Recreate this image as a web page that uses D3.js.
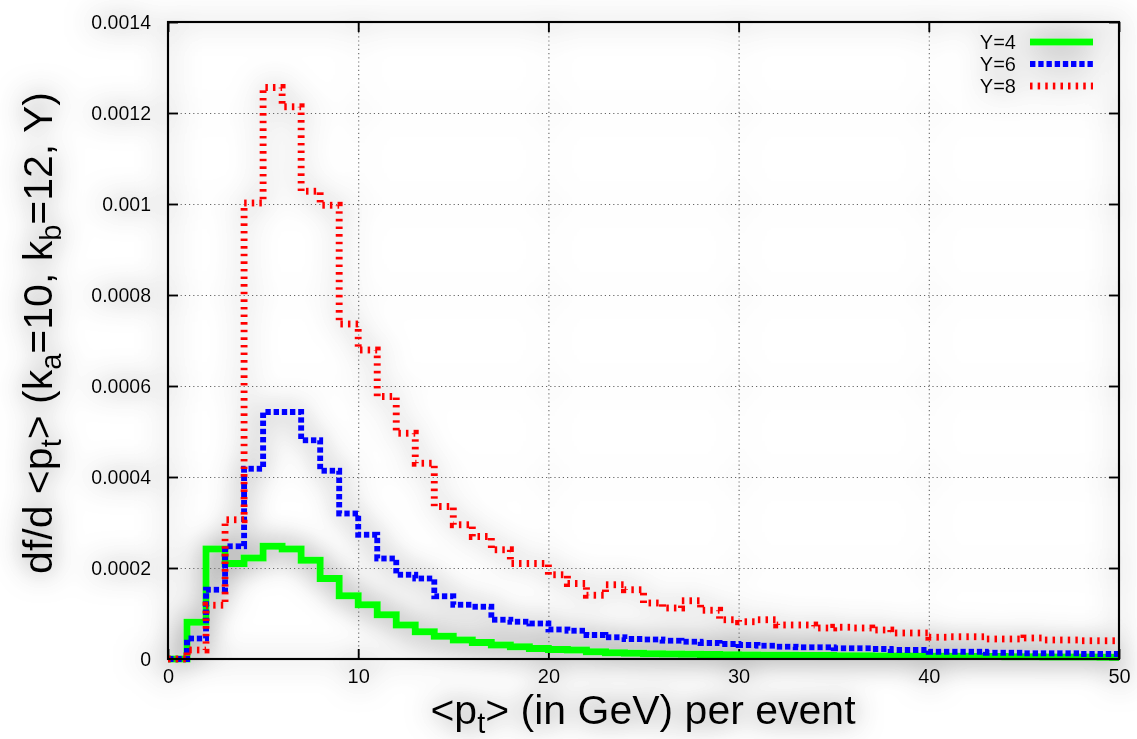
<!DOCTYPE html>
<html><head><meta charset="utf-8">
<script src="https://cdn.jsdelivr.net/npm/d3@7"></script>
<style>
html,body{margin:0;padding:0;background:#fff;}
svg{display:block;font-family:"Liberation Sans",Arial,Helvetica,sans-serif;}
</style></head>
<body>
<svg id="chart" width="1137" height="739"></svg>
<script>
// ---- data (1 GeV bins, 0..50) ----
const binEdges = d3.range(0, 51);
const seriesNames = ["Y=4", "Y=6", "Y=8"];
const y4 = [
0, 0.000081, 0.000242, 0.00021, 0.000222, 0.000248, 0.000242, 0.000217, 0.000177, 0.000139,
0.000119, 0.000097, 0.000075, 0.00006, 0.00005, 0.000042, 0.000036, 0.000031, 0.000027, 0.000023,
0.000021, 0.00002, 0.000016, 0.000014, 0.0000125, 0.0000115, 0.000011, 0.0000105, 0.00001, 0.0000095,
0.000009, 0.0000085, 0.000008, 0.0000078, 0.0000075, 0.0000072, 0.000007, 0.0000067, 0.0000065, 0.0000062,
0.000006, 0.0000058, 0.0000055, 0.0000053, 0.000005, 0.0000048, 0.0000046, 0.0000044, 0.0000042, 0.000004];
const y6 = [
0, 0.000045, 0.000152, 0.000248, 0.000418, 0.000543, 0.000543, 0.000481, 0.000414, 0.000320,
0.000273, 0.000221, 0.000185, 0.000177, 0.000138, 0.000119, 0.000115, 0.000086, 0.000082, 0.000078,
0.000065, 0.000062, 0.000053, 0.000048, 0.000044, 0.000043, 0.00004, 0.000038, 0.000035, 0.000033,
0.000031, 0.000029, 0.000027, 0.000026, 0.000026, 0.0000235, 0.0000235, 0.000022, 0.00002, 0.00002,
0.000016, 0.000016, 0.000016, 0.000014, 0.000014, 0.0000125, 0.0000125, 0.0000125, 0.000011, 0.000011];
const y8 = [
0, 0.00002, 0.000118, 0.000306, 0.001002, 0.001256, 0.001214, 0.001028, 0.000997, 0.000736,
0.000679, 0.000577, 0.000496, 0.00043, 0.000335, 0.000295, 0.000269, 0.00024, 0.00021, 0.00021,
0.000185, 0.000166, 0.00014, 0.000163, 0.000152, 0.000123, 0.000112, 0.000128, 0.000107, 0.000086,
0.000082, 0.000086, 0.000075, 0.000075, 0.000068, 0.00007, 0.000068, 0.000064, 0.000057, 0.000057,
0.000048, 0.000049, 0.000049, 0.000044, 0.000044, 0.000046, 0.000042, 0.000042, 0.00004, 0.00004];
const xTicks = [0, 10, 20, 30, 40, 50];
const yTicks = [0, 0.0002, 0.0004, 0.0006, 0.0008, 0.001, 0.0012, 0.0014];
const yTickLabels = ["0", "0.0002", "0.0004", "0.0006", "0.0008", "0.001", "0.0012", "0.0014"];

// ---- layout ----
const L = 168, T = 22, R = 1119, B = 659;
const svg = d3.select("#chart");
const defs = svg.append("defs");
const f = defs.append("filter").attr("id", "halo").attr("x", "-20%").attr("y", "-20%").attr("width", "140%").attr("height", "140%");
f.append("feGaussianBlur").attr("in", "SourceAlpha").attr("stdDeviation", 14).attr("result", "b0");
const ct = f.append("feComponentTransfer").attr("in", "b0").attr("result", "b");
ct.append("feFuncA").attr("type", "linear").attr("slope", 2.6).attr("intercept", 0);
f.append("feFlood").attr("flood-color", "#8a8a8a").attr("flood-opacity", 0.5).attr("result", "c");
f.append("feComposite").attr("in", "c").attr("in2", "b").attr("operator", "in").attr("result", "s");
const fm = f.append("feMerge");
fm.append("feMergeNode").attr("in", "s");
fm.append("feMergeNode").attr("in", "SourceGraphic");

const g = svg.append("g").attr("filter", "url(#halo)");

const x = d3.scaleLinear().domain([0, 50]).range([L, R]);
const y = d3.scaleLinear().domain([0, 0.0014]).range([B, T]);

// grid
const gridX = g.append("g").attr("transform", `translate(0,${B})`)
  .call(d3.axisBottom(x).tickValues([10, 20, 30, 40]).tickSize(-(B - T)).tickFormat(""));
const gridY = g.append("g").attr("transform", `translate(${L},0)`)
  .call(d3.axisLeft(y).tickValues(yTicks.slice(1, -1)).tickSize(-(R - L)).tickFormat(""));
[gridX, gridY].forEach(a => {
  a.select(".domain").remove();
  a.selectAll("line").attr("stroke", "#666").attr("stroke-width", 1.1).attr("stroke-dasharray", "1.2,3");
});

// tick marks (inward) on all sides
const tl = 10;
const axB = g.append("g").attr("transform", `translate(0,${B})`).call(d3.axisBottom(x).tickValues(xTicks).tickSize(-tl).tickFormat(""));
const axT = g.append("g").attr("transform", `translate(0,${T})`).call(d3.axisTop(x).tickValues(xTicks).tickSize(-tl).tickFormat(""));
const axL = g.append("g").attr("transform", `translate(${L},0)`).call(d3.axisLeft(y).tickValues(yTicks).tickSize(-tl).tickFormat(""));
const axR = g.append("g").attr("transform", `translate(${R},0)`).call(d3.axisRight(y).tickValues(yTicks).tickSize(-tl).tickFormat(""));
[axB, axT, axL, axR].forEach(a => { a.select(".domain").remove(); a.selectAll("line").attr("stroke", "#000").attr("stroke-width", 2); });

// tick labels
const labX = g.append("g").attr("transform", `translate(0,${B + 7})`)
  .call(d3.axisBottom(x).tickValues(xTicks).tickSize(0).tickFormat(d => String(d)));
labX.select(".domain").remove();
labX.selectAll("text").attr("font-size", 20).attr("fill", "#000").attr("font-family", "Liberation Sans, Arial, sans-serif");
const labY = g.append("g").attr("transform", `translate(${L - 14},0)`)
  .call(d3.axisLeft(y).tickValues(yTicks).tickSize(0).tickFormat((d, i) => yTickLabels[i]));
labY.select(".domain").remove();
labY.selectAll("text").attr("font-size", 19.5).attr("fill", "#000").attr("font-family", "Liberation Sans, Arial, sans-serif");

// series
const seriesData = [y4, y6, y8];
const styles = [
  {color: "#00ff00", width: 7, dash: null},
  {color: "#0000ff", width: 6, dash: "5.5,2.7"},
  {color: "#ff0000", width: 7, dash: "2.6,5"}
];
const line = d3.line().x(d => x(d[0])).y(d => y(d[1])).curve(d3.curveStepAfter);
seriesData.forEach((s, k) => {
  const pts = binEdges.map((e, i) => [e, i < s.length ? s[i] : s[s.length - 1]]);
  g.append("path").attr("d", line(pts)).attr("fill", "none")
    .attr("stroke", styles[k].color).attr("stroke-width", styles[k].width)
    .attr("stroke-dasharray", styles[k].dash).attr("stroke-linejoin", "miter").attr("stroke-linecap", "butt");
});

// frame
g.append("rect").attr("x", L).attr("y", T).attr("width", R - L).attr("height", B - T)
  .attr("fill", "none").attr("stroke", "#000").attr("stroke-width", 2.2);

// legend
const lg = g.append("g");
seriesNames.forEach((nm, k) => {
  const cy = 42 + k * 22;
  lg.append("text").attr("x", 1016).attr("y", cy + 7).attr("text-anchor", "end")
    .attr("font-size", 20).text(nm);
  lg.append("line").attr("x1", 1030).attr("x2", 1093).attr("y1", cy).attr("y2", cy)
    .attr("stroke", styles[k].color).attr("stroke-width", styles[k].width).attr("stroke-dasharray", styles[k].dash);
});

// axis titles
const xt = g.append("text").attr("x", 643).attr("y", 724).attr("text-anchor", "middle").attr("font-size", 41);
xt.append("tspan").text("<p");
xt.append("tspan").attr("font-size", 29).attr("dy", 9).text("t");
xt.append("tspan").attr("dy", -9).text("> (in GeV) per event");

const yt = g.append("text").attr("transform", "translate(52,333) rotate(-90)").attr("text-anchor", "middle").attr("font-size", 41);
yt.append("tspan").text("df/d <p");
yt.append("tspan").attr("font-size", 29).attr("dy", 9).text("t");
yt.append("tspan").attr("dy", -9).text("> (k");
yt.append("tspan").attr("font-size", 29).attr("dy", 9).text("a");
yt.append("tspan").attr("dy", -9).text("=10, k");
yt.append("tspan").attr("font-size", 29).attr("dy", 9).text("b");
yt.append("tspan").attr("dy", -9).text("=12, Y)");
</script>
</body></html>
